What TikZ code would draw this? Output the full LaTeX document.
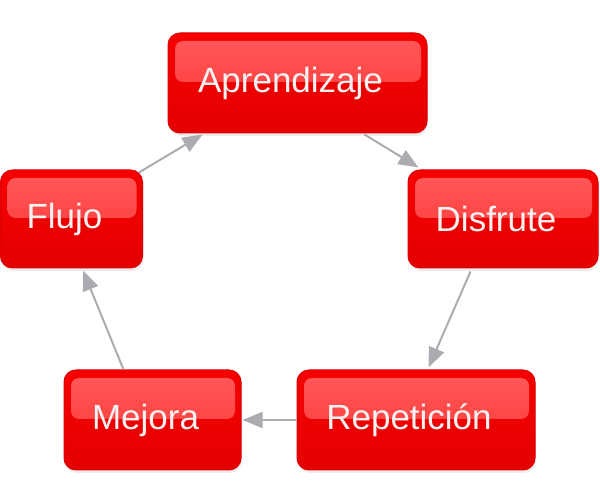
\documentclass[tikz,border=0pt]{standalone}
\usepackage{fontspec}
\setmainfont{Liberation Sans}
\usetikzlibrary{arrows.meta,shadows,calc}
\definecolor{redtop}{RGB}{246,0,0}
\definecolor{redmid}{RGB}{255,0,0}
\definecolor{redbot}{RGB}{228,0,0}
\definecolor{redline}{RGB}{222,0,0}
\definecolor{hltop}{RGB}{255,90,90}
\definecolor{hlbot}{RGB}{255,48,48}
\definecolor{txtcol}{RGB}{242,242,242}
\definecolor{arrcol}{RGB}{170,172,178}
\tikzset{
  redbox/.style={rectangle, rounded corners=12pt, draw=redline, line width=1pt,
    top color=redtop, middle color=redmid, bottom color=redbot,
    drop shadow={opacity=0.15, shadow xshift=1pt, shadow yshift=-3pt},
    text=txtcol, font=\fontsize{35}{40}\selectfont, inner sep=0pt,
    path picture={
      \shade[top color=hltop, bottom color=hlbot, rounded corners=8pt]
        ($(path picture bounding box.north west)+(7pt,-8pt)$) rectangle
        ($(path picture bounding box.east)+(-6pt,1pt)$);
    }},
  flow/.style={draw=arrcol, line width=2pt, -{Triangle[length=20pt,width=16pt]}}
}
\newcommand{\boxtext}[1]{\hspace*{-14pt}#1}
\begin{document}
\begin{tikzpicture}[x=1pt,y=1pt]
\useasboundingbox (0,0) rectangle (600,500);
\node[redbox, minimum width=259pt, minimum height=100pt] (apr) at (297.5,417) {\boxtext{Aprendizaje}};
\node[redbox, minimum width=142pt, minimum height=98pt] (flu) at (71.5,281) {\boxtext{Flujo}};
\node[redbox, minimum width=190pt, minimum height=98pt] (dis) at (503,281) {\boxtext{Disfrute}};
\node[redbox, minimum width=177pt, minimum height=100pt] (mej) at (152.5,80) {\boxtext{Mejora}};
\node[redbox, minimum width=238pt, minimum height=100pt] (rep) at (416,80) {\boxtext{Repetición}};
\draw[flow] ($(flu.north east)+(-4,-3)$) -- ($(apr.south west)+(35,-1)$);
\draw[flow] ($(apr.south east)+(-63,-1)$) -- ($(dis.north west)+(11,2)$);
\draw[flow] ($(dis.south west)+(63,-3)$) -- ($(rep.north west)+(132,2)$);
\draw[flow] (rep.west) -- ($(mej.east)+(1,0)$);
\draw[flow] ($(mej.north west)+(60,0)$) -- ($(flu.south west)+(83,-2)$);
\end{tikzpicture}
\end{document}
